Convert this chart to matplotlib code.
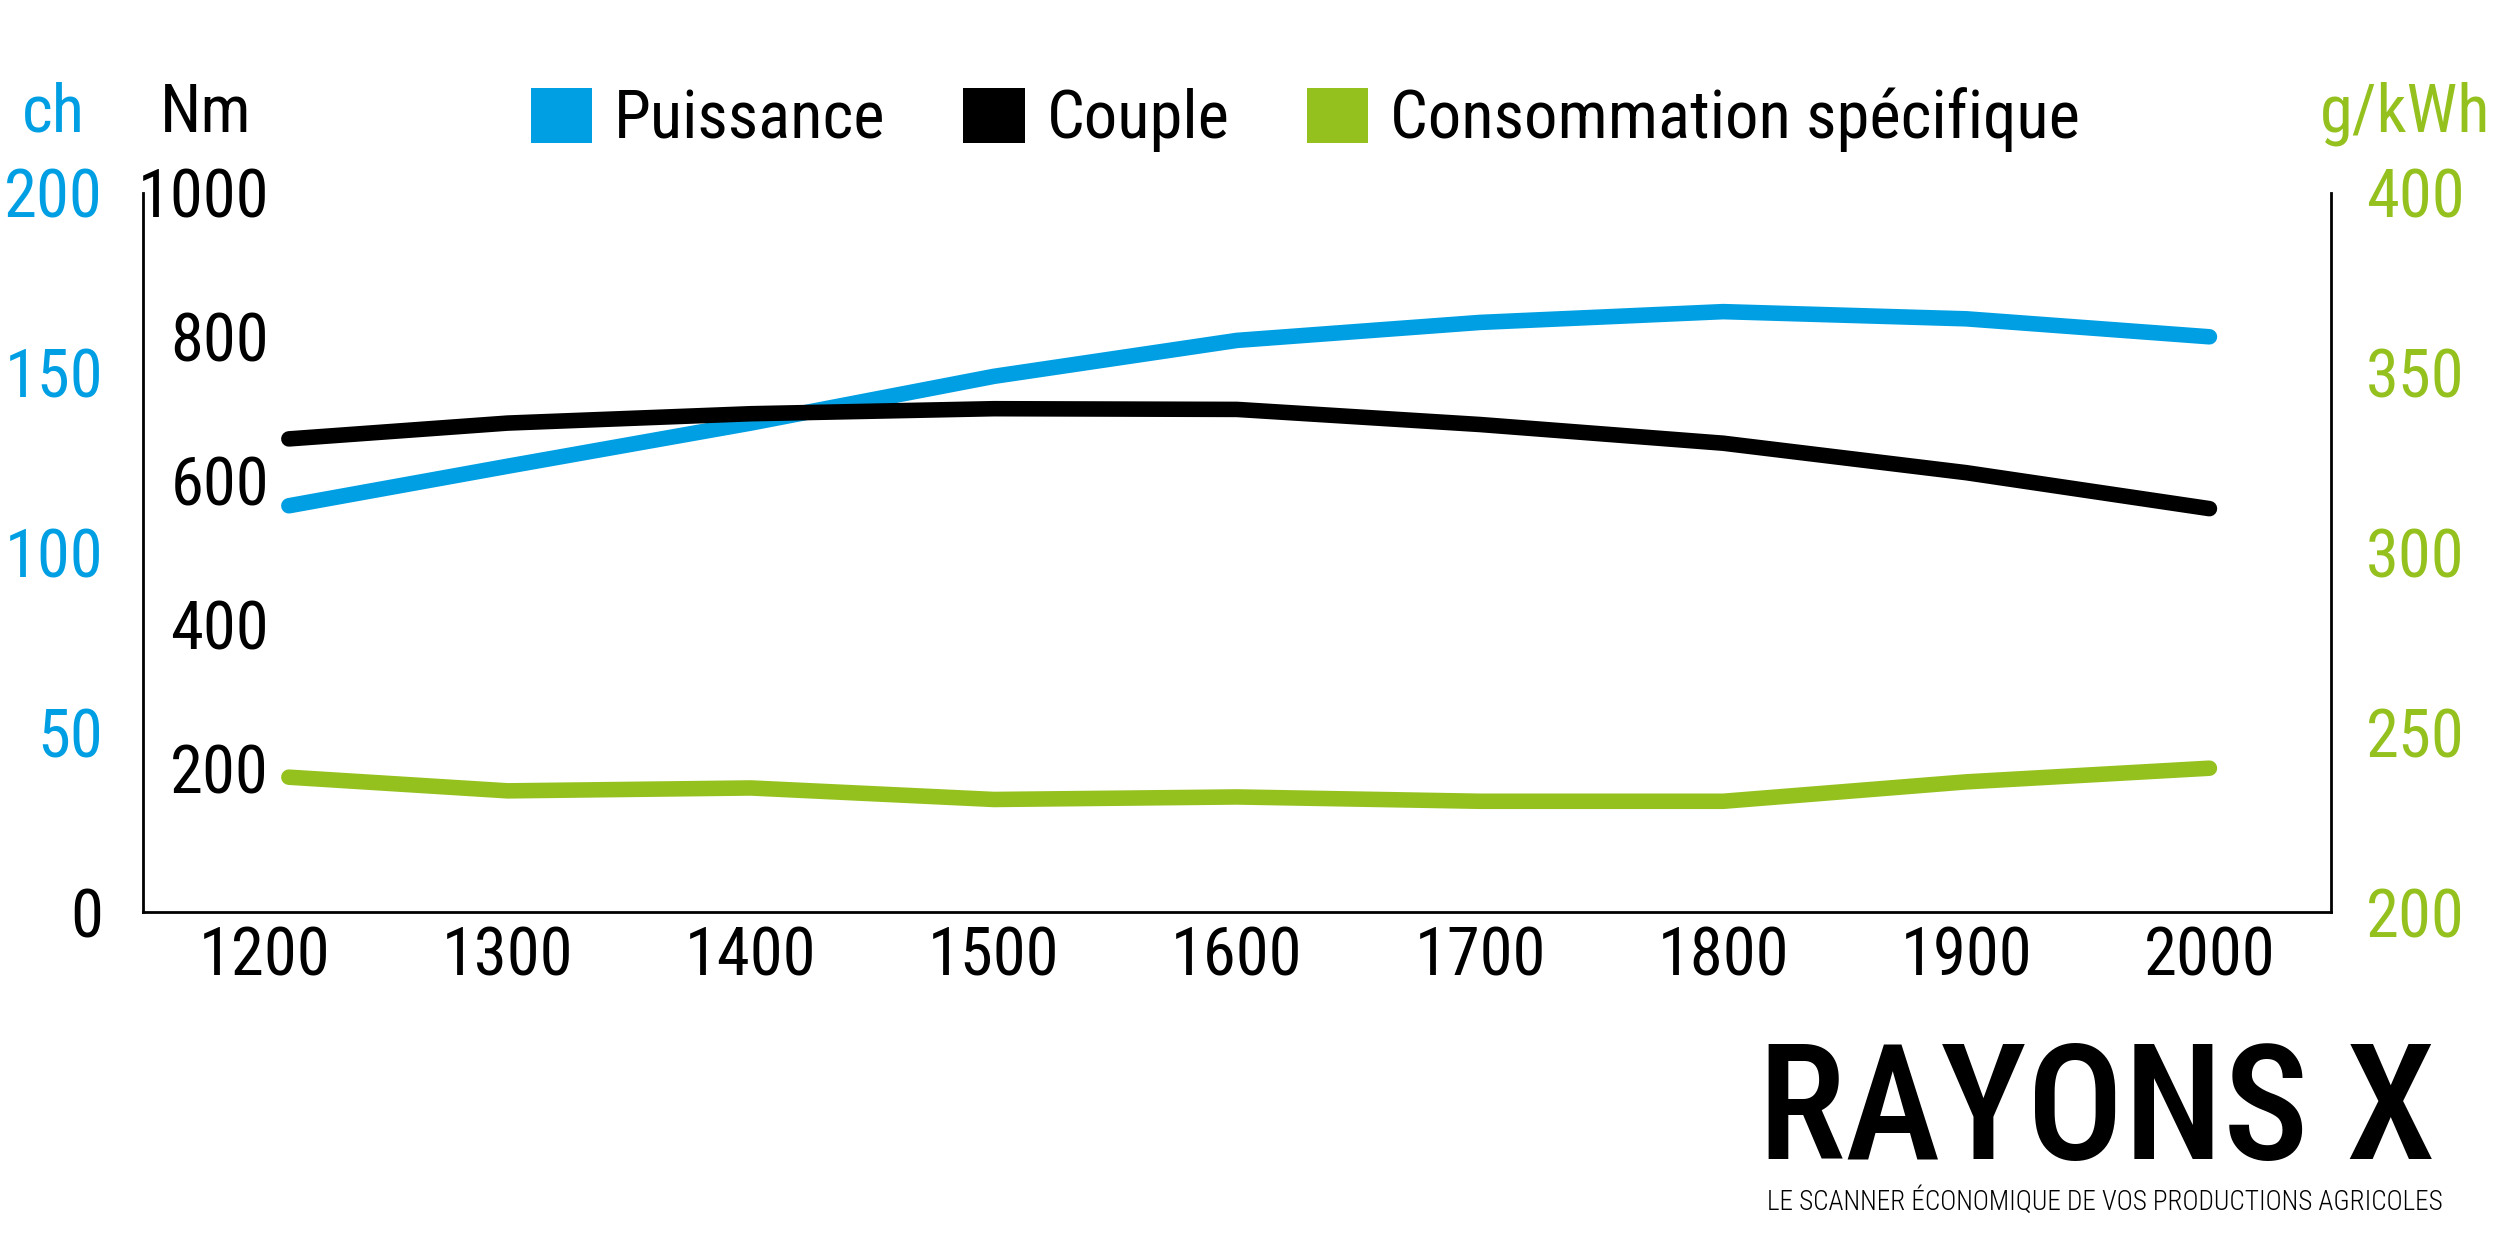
"""Courbes moteur : puissance, couple et consommation spécifique selon le régime."""
import matplotlib
matplotlib.use("Agg")
import matplotlib.pyplot as plt
from matplotlib import font_manager as fm
from matplotlib.font_manager import FontProperties
from matplotlib.patches import Patch

# régime moteur (tr/min)
rpm = [1210, 1300, 1400, 1500, 1600, 1700, 1800, 1900, 2000]
rpm_ticks = [1200, 1300, 1400, 1500, 1600, 1700, 1800, 1900, 2000]

puissance_ch = [113, 124, 136, 149, 159, 164, 167, 165, 160]
couple_nm = [658, 680, 693, 700, 699, 678, 652, 611, 561]
conso_gkwh = [237.5, 233.7, 234.5, 231.3, 232.0, 230.8, 230.8, 236.2, 240.0]

ch_ticks = [0, 50, 100, 150, 200]
nm_ticks = [200, 400, 600, 800, 1000]
g_ticks = [200, 250, 300, 350, 400]

series_names = ["Puissance", "Couple", "Consommation spécifique"]

BLUE = "#009FE3"
BLACK = "#000000"
GREEN = "#95C11F"

FS = 24
LW = 5.6

PREFERRED = ["liberation sans narrow", "arial narrow", "roboto condensed",
             "open sans condensed", "noto sans", "dejavu sans", "lato", "inter"]


def _weight(w):
    if isinstance(w, str):
        return fm.weight_dict.get(w, 400)
    return int(w)


def pick_narrow(weight=400):
    """Look for an installed condensed sans-serif face, None if there is none."""
    best = None
    for f in fm.fontManager.ttflist:
        name = f.name.lower()
        path = f.fname.lower()
        narrow = (f.stretch in ("condensed", "semi-condensed", "extra-condensed")
                  or "narrow" in name or "condensed" in name
                  or "condensed" in path or "narrow" in path)
        if not narrow or f.style != "normal":
            continue
        if "mono" in name or ("serif" in name and "sans" not in name):
            continue
        rank = next((i for i, p in enumerate(PREFERRED) if name.startswith(p)), len(PREFERRED))
        semi = 1 if (f.stretch == "semi-condensed" or "semicondensed" in path) else 0
        score = (rank, semi, abs(_weight(f.weight) - weight))
        if best is None or score < best[0]:
            best = (score, f.fname)
    return best[1] if best else None


narrow_regular = pick_narrow(400)
narrow_medium = pick_narrow(500)
narrow_light = pick_narrow(300)


def fp(size, face=None):
    path = face or narrow_regular
    if path:
        return FontProperties(fname=path, size=size)
    return FontProperties(family="Liberation Sans", size=size * 0.85)


plt.rcParams["font.family"] = ["Liberation Sans", "DejaVu Sans"]

fig = plt.figure(figsize=(12.5, 6.25), dpi=200)
ax = fig.add_axes([0.0572, 0.2704, 0.8752, 0.5752])
ax_nm = ax.twinx()
ax_g = ax.twinx()

ax.plot(rpm, puissance_ch, color=BLUE, lw=LW, solid_capstyle="round")
ax_nm.plot(rpm, couple_nm, color=BLACK, lw=LW, solid_capstyle="round")
ax_g.plot(rpm, conso_gkwh, color=GREEN, lw=LW, solid_capstyle="round")

ax.set_xlim(1150, 2050)
ax.set_ylim(0, 200)
ax_nm.set_ylim(0, 1000)
ax_g.set_ylim(200, 400)

# spines: left + bottom on the main axis, right on the g/kWh axis
ax.spines["top"].set_visible(False)
ax.spines["right"].set_visible(False)
for s in ax_nm.spines.values():
    s.set_visible(False)
for name in ("top", "left", "bottom"):
    ax_g.spines[name].set_visible(False)
for s in (ax.spines["left"], ax.spines["bottom"], ax_g.spines["right"]):
    s.set_linewidth(1.0)
    s.set_color(BLACK)

# x axis
ax.set_xticks(rpm_ticks)
ax.set_xticklabels([str(v) for v in rpm_ticks])
ax.tick_params(axis="x", length=0, pad=5, labelcolor=BLACK)

# ch (outer left, blue)
ax.set_yticks(ch_ticks)
ax.set_yticklabels([str(v) for v in ch_ticks])
ax.tick_params(axis="y", length=0, pad=14.4, labelcolor=BLUE)

# Nm (inner left, black, drawn inside the frame)
ax_nm.yaxis.set_ticks_position("left")
ax_nm.set_yticks(nm_ticks)
ax_nm.set_yticklabels([str(v) for v in nm_ticks])
ax_nm.tick_params(axis="y", length=0, left=False, right=False,
                  labelleft=True, labelright=False, pad=-45.4, labelcolor=BLACK)

# g/kWh (right, green)
ax_g.set_yticks(g_ticks)
ax_g.set_yticklabels([str(v) for v in g_ticks])
ax_g.tick_params(axis="y", length=0, pad=12.6, labelcolor=GREEN)

for lbl in (ax.get_xticklabels() + ax.get_yticklabels()
            + ax_nm.get_yticklabels() + ax_g.get_yticklabels()):
    lbl.set_fontproperties(fp(FS))
ax.get_yticklabels()[0].set_color(BLACK)

# unit labels
fig.text(0.0212, 0.8944, "ch", color=BLUE, fontproperties=fp(FS), ha="center", va="baseline")
fig.text(0.064, 0.8944, "Nm", color=BLACK, fontproperties=fp(FS), ha="left", va="baseline")
fig.text(0.996, 0.8944, "g/kWh", color=GREEN, fontproperties=fp(FS), ha="right", va="baseline")

# legend
handles = [Patch(facecolor=c, edgecolor="none") for c in (BLUE, BLACK, GREEN)]
fig.legend(handles, series_names, loc="center left", bbox_to_anchor=(0.2124, 0.904),
           ncol=3, frameon=False, prop=fp(FS), handlelength=0.92, handleheight=0.88,
           handletextpad=0.33, columnspacing=1.16, borderpad=0, borderaxespad=0)

# logo
fig.text(0.9744, 0.0728, "RAYONS X", fontproperties=fp(58, narrow_medium),
         ha="right", va="baseline")
fig.text(0.9772, 0.032, "LE SCANNER ÉCONOMIQUE DE VOS PRODUCTIONS AGRICOLES",
         fontproperties=fp(9.8, narrow_light), color=BLACK, ha="right", va="baseline")

fig.savefig("out.png", dpi=200)
